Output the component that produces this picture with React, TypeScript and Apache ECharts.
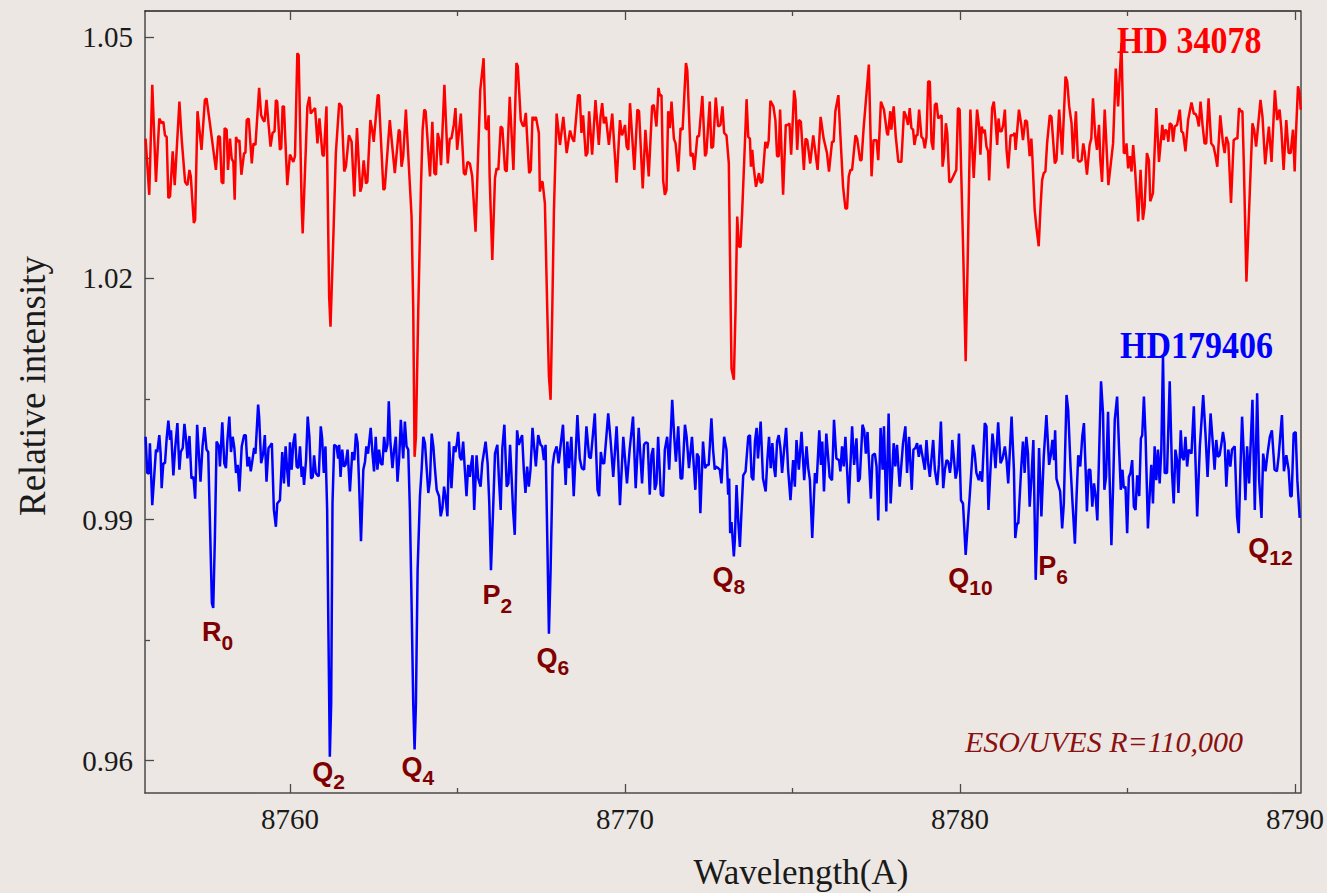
import React, { useEffect, useRef } from "react";
import * as echarts from "echarts";

// ---- axis ranges / ticks ----
const X_MIN = 8755.673;
const X_MAX = 8790.16;
const Y_MIN = 0.95598;
const Y_MAX = 1.05327;
const xMajor = [8760, 8770, 8780, 8790];
const xMinor = [8765, 8775, 8785];
const yMajor = [0.96, 0.99, 1.02, 1.05];
const yMinor = [0.975, 1.005, 1.035];

// ---- HD 34078 spectrum (wavelength, relative intensity) ----
const hd34078: [number, number][] = [
  [8755.69,1.0374],[8755.80,1.0304],[8755.89,1.0441],[8756.00,1.0320],[8756.10,1.0399],[8756.17,1.0393],[8756.22,1.0395],[8756.27,1.0378],[8756.32,1.0376],[8756.37,1.0300],[8756.42,1.0302],[8756.50,1.0358],[8756.56,1.0316],[8756.70,1.0420],[8756.77,1.0372],[8756.87,1.0320],[8756.94,1.0316],[8757.00,1.0335],[8757.04,1.0327],[8757.13,1.0269],[8757.17,1.0273],[8757.24,1.0408],[8757.36,1.0360],[8757.46,1.0422],[8757.51,1.0424],[8757.61,1.0393],[8757.79,1.0335],[8757.86,1.0377],[8757.91,1.0376],[8757.96,1.0320],[8758.01,1.0318],[8758.05,1.0387],[8758.11,1.0385],[8758.15,1.0335],[8758.21,1.0374],[8758.26,1.0349],[8758.31,1.0345],[8758.35,1.0298],[8758.39,1.0376],[8758.44,1.0370],[8758.49,1.0372],[8758.55,1.0329],[8758.63,1.0356],[8758.67,1.0356],[8758.71,1.0397],[8758.77,1.0399],[8758.86,1.0343],[8758.91,1.0368],[8758.97,1.0366],[8759.08,1.0437],[8759.14,1.0403],[8759.20,1.0397],[8759.24,1.0395],[8759.30,1.0422],[8759.35,1.0397],[8759.42,1.0364],[8759.48,1.0381],[8759.54,1.0383],[8759.58,1.0422],[8759.62,1.0420],[8759.70,1.0360],[8759.74,1.0362],[8759.78,1.0414],[8759.82,1.0414],[8759.92,1.0316],[8760.00,1.0354],[8760.10,1.0345],[8760.15,1.0352],[8760.22,1.0480],[8760.26,1.0478],[8760.35,1.0289],[8760.38,1.0256],[8760.52,1.0414],[8760.58,1.0426],[8760.62,1.0405],[8760.67,1.0408],[8760.75,1.0412],[8760.82,1.0368],[8760.88,1.0399],[8760.97,1.0354],[8761.01,1.0352],[8761.09,1.0414],[8761.17,1.0177],[8761.21,1.0140],[8761.29,1.0244],[8761.37,1.0356],[8761.47,1.0418],
  [8761.54,1.0414],[8761.62,1.0333],[8761.67,1.0339],[8761.76,1.0378],[8761.84,1.0370],[8761.92,1.0302],[8762.00,1.0387],[8762.10,1.0308],[8762.14,1.0314],[8762.20,1.0347],[8762.27,1.0318],[8762.31,1.0320],[8762.40,1.0397],[8762.46,1.0383],[8762.50,1.0370],[8762.62,1.0428],[8762.65,1.0428],[8762.79,1.0310],[8762.83,1.0312],[8762.98,1.0397],[8763.13,1.0331],[8763.25,1.0385],[8763.28,1.0383],[8763.33,1.0339],[8763.38,1.0352],[8763.46,1.0410],[8763.51,1.0370],[8763.55,1.0339],[8763.63,1.0277],[8763.68,1.0161],[8763.72,0.9978],[8763.76,1.0003],[8763.83,1.0161],[8763.91,1.0314],[8763.96,1.0385],[8764.01,1.0410],[8764.05,1.0408],[8764.18,1.0327],[8764.25,1.0395],[8764.31,1.0331],[8764.36,1.0329],[8764.41,1.0381],[8764.46,1.0372],[8764.51,1.0341],[8764.61,1.0441],[8764.71,1.0343],[8764.77,1.0374],[8764.82,1.0374],[8764.89,1.0391],[8764.94,1.0412],[8764.99,1.0360],[8765.10,1.0405],[8765.19,1.0331],[8765.24,1.0329],[8765.30,1.0345],[8765.37,1.0343],[8765.44,1.0327],[8765.54,1.0258],[8765.68,1.0434],[8765.78,1.0474],[8765.84,1.0387],[8765.89,1.0385],[8765.93,1.0403],[8765.96,1.0327],[8766.04,1.0223],[8766.12,1.0325],[8766.17,1.0337],[8766.22,1.0335],[8766.29,1.0389],[8766.34,1.0387],[8766.42,1.0335],[8766.47,1.0333],[8766.56,1.0426],[8766.67,1.0335],[8766.76,1.0468],[8766.80,1.0464],[8766.89,1.0397],[8766.94,1.0391],[8766.98,1.0389],[8767.04,1.0406],[8767.09,1.0368],[8767.14,1.0331],[8767.19,1.0335],[8767.24,1.0401],
  [8767.29,1.0397],[8767.34,1.0401],[8767.43,1.0381],[8767.46,1.0308],[8767.51,1.0320],[8767.54,1.0320],[8767.61,1.0293],[8767.68,1.0161],[8767.73,1.0078],[8767.78,1.0049],[8767.83,1.0161],[8767.88,1.0285],[8767.96,1.0405],[8768.06,1.0366],[8768.16,1.0401],[8768.26,1.0356],[8768.36,1.0384],[8768.43,1.0374],[8768.48,1.0370],[8768.60,1.0428],[8768.65,1.0428],[8768.70,1.0381],[8768.75,1.0403],[8768.83,1.0352],[8768.88,1.0356],[8768.93,1.0408],[8769.02,1.0354],[8769.12,1.0422],[8769.22,1.0366],[8769.27,1.0401],[8769.32,1.0418],[8769.37,1.0393],[8769.43,1.0401],[8769.52,1.0366],[8769.62,1.0405],[8769.75,1.0319],[8769.85,1.0397],[8769.91,1.0378],[8769.97,1.0385],[8770.00,1.0391],[8770.05,1.0364],[8770.10,1.0360],[8770.15,1.0418],[8770.28,1.0335],[8770.37,1.0410],[8770.42,1.0408],[8770.53,1.0312],[8770.61,1.0385],[8770.71,1.0327],[8770.81,1.0414],[8770.86,1.0416],[8770.94,1.0389],[8771.00,1.0437],[8771.04,1.0428],[8771.09,1.0428],[8771.14,1.0322],[8771.19,1.0304],[8771.24,1.0310],[8771.29,1.0408],[8771.34,1.0387],[8771.39,1.0420],[8771.46,1.0374],[8771.51,1.0368],[8771.59,1.0333],[8771.66,1.0387],[8771.72,1.0385],[8771.82,1.0468],[8771.86,1.0459],[8771.96,1.0352],[8772.02,1.0356],[8772.07,1.0335],[8772.16,1.0377],[8772.21,1.0377],[8772.31,1.0427],[8772.39,1.0352],[8772.43,1.0356],[8772.53,1.0420],[8772.58,1.0362],[8772.63,1.0364],[8772.71,1.0425],[8772.78,1.0389],[8772.85,1.0391],[8772.91,1.0414],[8772.96,1.0381],
  [8773.03,1.0378],[8773.10,1.0343],[8773.13,1.0244],[8773.18,1.0088],[8773.25,1.0074],[8773.30,1.0161],[8773.35,1.0277],[8773.40,1.0240],[8773.45,1.0239],[8773.50,1.0285],[8773.56,1.0347],[8773.63,1.0423],[8773.68,1.0376],[8773.73,1.0374],[8773.76,1.0339],[8773.80,1.0360],[8773.84,1.0339],[8773.91,1.0314],[8774.00,1.0331],[8774.05,1.0319],[8774.10,1.0320],[8774.19,1.0370],[8774.24,1.0362],[8774.29,1.0372],[8774.34,1.0421],[8774.43,1.0414],[8774.49,1.0397],[8774.54,1.0352],[8774.59,1.0352],[8774.63,1.0410],[8774.72,1.0304],[8774.80,1.0391],[8774.87,1.0391],[8774.91,1.0393],[8774.96,1.0354],[8775.05,1.0434],[8775.09,1.0422],[8775.14,1.0360],[8775.19,1.0397],[8775.25,1.0395],[8775.34,1.0335],[8775.39,1.0374],[8775.44,1.0372],[8775.53,1.0343],[8775.62,1.0378],[8775.75,1.0335],[8775.84,1.0401],[8775.93,1.0374],[8776.03,1.0356],[8776.09,1.0333],[8776.18,1.0370],[8776.23,1.0370],[8776.28,1.0408],[8776.37,1.0428],[8776.43,1.0378],[8776.51,1.0314],[8776.58,1.0287],[8776.63,1.0287],[8776.68,1.0327],[8776.73,1.0335],[8776.78,1.0335],[8776.88,1.0378],[8776.93,1.0374],[8777.02,1.0347],[8777.06,1.0347],[8777.12,1.0385],[8777.28,1.0466],[8777.36,1.0327],[8777.42,1.0372],[8777.51,1.0372],[8777.56,1.0347],[8777.64,1.0420],[8777.73,1.0410],[8777.82,1.0381],[8777.85,1.0378],[8777.92,1.0408],[8777.95,1.0385],[8778.02,1.0414],[8778.08,1.0378],[8778.16,1.0345],[8778.25,1.0345],[8778.33,1.0408],[8778.38,1.0403],[8778.45,1.0391],[8778.50,1.0412],[8778.55,1.0387],[8778.60,1.0385],[8778.64,1.0366],[8778.69,1.0378],[8778.73,1.0378],[8778.78,1.0410],[8778.85,1.0376],
  [8778.90,1.0374],[8778.95,1.0362],[8779.00,1.0376],[8779.05,1.0445],[8779.10,1.0445],[8779.15,1.0370],[8779.20,1.0360],[8779.25,1.0416],[8779.30,1.0418],[8779.35,1.0399],[8779.40,1.0401],[8779.45,1.0403],[8779.48,1.0339],[8779.52,1.0352],[8779.58,1.0393],[8779.62,1.0381],[8779.68,1.0320],[8779.72,1.0320],[8779.89,1.0335],[8779.94,1.0412],[8779.99,1.0410],[8780.09,1.0244],[8780.17,1.0097],[8780.24,1.0244],[8780.31,1.0410],[8780.41,1.0325],[8780.51,1.0410],[8780.57,1.0389],[8780.61,1.0354],[8780.65,1.0389],[8780.69,1.0381],[8780.74,1.0385],[8780.79,1.0364],[8780.84,1.0358],[8780.87,1.0322],[8780.96,1.0412],[8781.01,1.0420],[8781.06,1.0397],[8781.11,1.0366],[8781.15,1.0399],[8781.19,1.0383],[8781.24,1.0383],[8781.29,1.0391],[8781.34,1.0410],[8781.39,1.0360],[8781.44,1.0337],[8781.51,1.0378],[8781.59,1.0378],[8781.63,1.0381],[8781.66,1.0360],[8781.76,1.0410],[8781.83,1.0391],[8781.88,1.0372],[8781.95,1.0397],[8782.00,1.0395],[8782.08,1.0352],[8782.13,1.0374],[8782.16,1.0352],[8782.23,1.0285],[8782.28,1.0264],[8782.35,1.0240],[8782.40,1.0285],[8782.45,1.0322],[8782.50,1.0331],[8782.55,1.0333],[8782.60,1.0368],[8782.68,1.0403],[8782.73,1.0401],[8782.83,1.0343],[8782.88,1.0347],[8782.96,1.0410],[8783.05,1.0354],[8783.15,1.0451],[8783.20,1.0445],[8783.26,1.0414],[8783.33,1.0393],[8783.38,1.0349],[8783.46,1.0408],[8783.52,1.0347],[8783.57,1.0345],[8783.63,1.0347],[8783.68,1.0368],[8783.72,1.0358],[8783.79,1.0329],[8783.87,1.0366],[8783.92,1.0374],[8783.97,1.0424],[8784.04,1.0376],[8784.09,1.0360],[8784.15,1.0391],[8784.19,1.0347],[8784.24,1.0320],[8784.32,1.0410],[8784.43,1.0316],[8784.57,1.0368],[8784.65,1.0461],
  [8784.72,1.0414],[8784.82,1.0493],[8784.89,1.0356],[8784.94,1.0356],[8784.97,1.0368],[8785.02,1.0337],[8785.07,1.0352],[8785.12,1.0333],[8785.17,1.0366],[8785.22,1.0339],[8785.32,1.0271],[8785.39,1.0335],[8785.46,1.0273],[8785.51,1.0289],[8785.58,1.0356],[8785.64,1.0347],[8785.68,1.0296],[8785.76,1.0306],[8785.86,1.0412],[8785.94,1.0345],[8786.04,1.0391],[8786.08,1.0372],[8786.13,1.0385],[8786.18,1.0383],[8786.22,1.0370],[8786.26,1.0393],[8786.32,1.0391],[8786.36,1.0370],[8786.41,1.0389],[8786.48,1.0391],[8786.56,1.0410],[8786.61,1.0383],[8786.66,1.0381],[8786.73,1.0358],[8786.81,1.0397],[8786.91,1.0419],[8786.98,1.0405],[8787.03,1.0405],[8787.08,1.0400],[8787.13,1.0389],[8787.18,1.0420],[8787.24,1.0391],[8787.30,1.0368],[8787.35,1.0368],[8787.42,1.0424],[8787.50,1.0368],[8787.57,1.0364],[8787.63,1.0352],[8787.68,1.0339],[8787.77,1.0403],[8787.85,1.0368],[8787.90,1.0356],[8787.95,1.0376],[8788.01,1.0368],[8788.09,1.0294],[8788.17,1.0372],[8788.23,1.0374],[8788.28,1.0374],[8788.33,1.0412],[8788.38,1.0408],[8788.43,1.0408],[8788.47,1.0347],[8788.55,1.0196],[8788.63,1.0285],[8788.73,1.0393],[8788.78,1.0385],[8788.84,1.0364],[8788.97,1.0422],[8789.03,1.0401],[8789.11,1.0342],[8789.22,1.0389],[8789.30,1.0345],[8789.40,1.0434],[8789.47,1.0397],[8789.54,1.0410],[8789.59,1.0387],[8789.66,1.0335],[8789.74,1.0397],[8789.81,1.0356],[8789.87,1.0356],[8789.94,1.0385],[8789.99,1.0333],[8790.02,1.0372],[8790.09,1.0439],[8790.14,1.0430],[8790.17,1.0410]
];

// ---- HD179406 spectrum (wavelength, relative intensity) ----
const hd179406: [number, number][] = [
  [8755.69,1.0003],[8755.74,0.9958],[8755.79,0.9957],[8755.82,0.9995],[8755.89,0.9918],[8756.00,0.9987],[8756.04,0.9984],[8756.10,1.0005],[8756.14,0.9982],[8756.17,0.9939],[8756.22,0.9970],[8756.27,0.9970],[8756.32,1.0001],[8756.37,1.0023],[8756.42,0.9999],[8756.45,1.0011],[8756.52,0.9955],[8756.57,0.9987],[8756.64,1.0020],[8756.70,0.9962],[8756.74,0.9984],[8756.80,0.9989],[8756.85,1.0019],[8756.90,0.9999],[8756.94,0.9976],[8757.00,1.0004],[8757.06,0.9951],[8757.12,0.9953],[8757.17,0.9926],[8757.23,1.0018],[8757.33,0.9947],[8757.39,0.9991],[8757.45,1.0015],[8757.51,0.9987],[8757.56,0.9984],[8757.67,0.9796],[8757.71,0.9790],[8757.76,0.9879],[8757.81,0.9997],[8757.88,0.9991],[8757.91,0.9966],[8757.98,1.0021],[8758.04,0.9970],[8758.09,0.9964],[8758.13,0.9997],[8758.19,1.0028],[8758.24,0.9984],[8758.29,1.0003],[8758.34,0.9989],[8758.39,0.9958],[8758.44,0.9968],[8758.49,0.9935],[8758.56,0.9991],[8758.63,1.0005],[8758.68,1.0005],[8758.73,0.9966],[8758.78,0.9978],[8758.83,0.9960],[8758.88,0.9974],[8758.93,0.9989],[8758.97,0.9982],[8759.05,1.0043],[8759.08,1.0028],[8759.14,0.9970],[8759.20,0.9982],[8759.25,1.0005],[8759.30,0.9947],[8759.36,0.9989],[8759.40,0.9991],[8759.46,0.9995],[8759.52,0.9912],[8759.58,0.9891],[8759.62,0.9920],[8759.70,0.9924],[8759.77,0.9984],[8759.82,0.9945],[8759.87,0.9991],[8759.92,0.9960],[8759.96,0.9941],[8760.00,0.9996],[8760.05,0.9962],[8760.10,0.9995],[8760.15,1.0007],[8760.20,0.9966],[8760.25,0.9964],[8760.30,0.9991],[8760.35,0.9953],[8760.38,0.9966],[8760.42,0.9943],[8760.48,0.9974],[8760.53,1.0028],[8760.58,1.0003],[8760.63,0.9951],[8760.68,0.9953],[8760.72,0.9980],[8760.77,0.9958],[8760.82,0.9955],[8760.86,0.9954],[8760.92,1.0016],[8760.96,1.0001],[8761.01,0.9958],[8761.06,0.9991],[8761.11,0.9912],[8761.15,0.9754],[8761.19,0.9605],[8761.23,0.9671],[8761.27,0.9920],[8761.32,0.9993],[8761.39,0.9991],
  [8761.44,0.9976],[8761.47,0.9993],[8761.51,0.9953],[8761.56,0.9987],[8761.61,0.9966],[8761.66,0.9968],[8761.72,0.9987],[8761.79,0.9935],[8761.86,0.9984],[8761.92,0.9974],[8761.97,1.0007],[8762.02,0.9995],[8762.06,0.9949],[8762.12,0.9873],[8762.19,0.9962],[8762.24,0.9972],[8762.28,0.9991],[8762.33,0.9982],[8762.41,1.0014],[8762.46,0.9984],[8762.51,0.9960],[8762.56,1.0003],[8762.61,0.9962],[8762.66,0.9987],[8762.71,0.9970],[8762.76,0.9968],[8762.81,1.0003],[8762.86,0.9984],[8762.91,0.9993],[8762.95,1.0047],[8763.00,0.9995],[8763.06,0.9964],[8763.11,0.9987],[8763.16,1.0003],[8763.21,0.9947],[8763.26,0.9976],[8763.31,1.0024],[8763.38,0.9976],[8763.43,1.0022],[8763.48,0.9991],[8763.53,0.9987],[8763.58,0.9912],[8763.63,0.9796],[8763.68,0.9671],[8763.72,0.9614],[8763.76,0.9671],[8763.81,0.9837],[8763.88,0.9929],[8763.93,0.9962],[8763.98,1.0003],[8764.03,0.9995],[8764.13,0.9933],[8764.18,0.9949],[8764.23,1.0007],[8764.28,0.9991],[8764.33,0.9962],[8764.38,0.9937],[8764.45,0.9929],[8764.50,0.9904],[8764.55,0.9914],[8764.60,0.9941],[8764.65,0.9926],[8764.70,0.9904],[8764.75,0.9997],[8764.82,0.9939],[8764.89,0.9991],[8764.94,0.9984],[8764.99,0.9997],[8765.02,1.0009],[8765.07,0.9978],[8765.12,0.9974],[8765.17,0.9997],[8765.22,0.9962],[8765.27,0.9929],[8765.32,0.9968],[8765.37,0.9953],[8765.40,0.9966],[8765.45,0.9980],[8765.50,0.9912],[8765.57,0.9980],[8765.62,0.9951],[8765.69,0.9941],[8765.74,0.9970],[8765.84,0.9997],[8765.90,0.9970],[8765.95,0.9920],[8766.00,0.9837],[8766.07,0.9920],[8766.12,0.9982],[8766.19,0.9993],[8766.24,0.9949],[8766.29,0.9912],[8766.34,0.9989],[8766.40,1.0018],[8766.47,0.9941],[8766.52,0.9945],[8766.57,0.9993],[8766.62,0.9949],[8766.66,0.9912],[8766.71,0.9881],[8766.78,1.0011],[8766.83,0.9993],[8766.88,0.9999],[8766.93,1.0005],[8766.98,0.9962],[8767.03,0.9933],[8767.08,0.9966],[8767.13,0.9941],[8767.18,0.9962],[8767.24,1.0014],
  [8767.34,0.9966],[8767.41,1.0005],[8767.48,0.9993],[8767.53,0.9991],[8767.58,0.9974],[8767.63,0.9993],[8767.68,0.9879],[8767.73,0.9758],[8767.78,0.9837],[8767.84,0.9966],[8767.89,0.9982],[8767.96,0.9991],[8768.02,0.9970],[8768.08,0.9993],[8768.15,1.0018],[8768.23,0.9943],[8768.28,0.9997],[8768.33,0.9964],[8768.40,1.0003],[8768.47,0.9929],[8768.58,1.0030],[8768.65,0.9976],[8768.71,0.9964],[8768.78,0.9962],[8768.85,1.0016],[8768.93,0.9978],[8768.98,0.9976],[8769.10,1.0032],[8769.18,0.9937],[8769.23,0.9929],[8769.28,0.9984],[8769.33,0.9970],[8769.38,0.9970],[8769.50,1.0032],[8769.57,0.9999],[8769.65,0.9953],[8769.75,1.0016],[8769.80,0.9972],[8769.85,0.9918],[8769.95,1.0003],[8770.06,0.9945],[8770.14,0.9987],[8770.24,1.0028],[8770.32,0.9939],[8770.41,1.0014],[8770.51,0.9945],[8770.57,0.9993],[8770.62,0.9996],[8770.68,0.9995],[8770.74,0.9931],[8770.79,0.9980],[8770.84,0.9989],[8770.89,0.9937],[8770.94,0.9945],[8770.99,1.0003],[8771.07,0.9931],[8771.14,0.9929],[8771.19,0.9987],[8771.26,1.0003],[8771.32,0.9962],[8771.41,1.0049],[8771.47,1.0003],[8771.52,0.9972],[8771.59,1.0016],[8771.66,0.9951],[8771.71,0.9951],[8771.79,1.0018],[8771.84,1.0003],[8771.91,0.9964],[8772.00,1.0003],[8772.10,0.9937],[8772.15,0.9982],[8772.20,0.9978],[8772.25,0.9908],[8772.33,0.9997],[8772.39,0.9964],[8772.45,0.9968],[8772.50,0.9968],[8772.58,1.0026],[8772.63,0.9987],[8772.68,0.9962],[8772.71,0.9966],[8772.78,0.9964],[8772.83,0.9962],[8772.88,0.9945],[8772.96,1.0003],
  [8773.03,0.9987],[8773.08,0.9931],[8773.11,0.9951],[8773.14,0.9883],[8773.18,0.9897],[8773.25,0.9854],[8773.28,0.9875],[8773.33,0.9943],[8773.38,0.9899],[8773.43,0.9866],[8773.48,0.9912],[8773.53,0.9955],[8773.60,0.9960],[8773.68,1.0003],[8773.73,1.0005],[8773.78,0.9953],[8773.83,0.9949],[8773.88,0.9997],[8773.93,1.0014],[8773.97,0.9976],[8774.05,1.0022],[8774.12,0.9951],[8774.20,0.9935],[8774.25,0.9974],[8774.30,1.0003],[8774.35,0.9964],[8774.40,0.9995],[8774.45,0.9964],[8774.49,0.9953],[8774.54,0.9997],[8774.59,1.0005],[8774.64,0.9989],[8774.69,0.9958],[8774.75,0.9987],[8774.81,1.0014],[8774.87,0.9962],[8774.94,0.9924],[8775.02,0.9974],[8775.07,0.9941],[8775.12,0.9999],[8775.19,0.9962],[8775.27,1.0009],[8775.35,0.9949],[8775.42,0.9991],[8775.47,0.9964],[8775.52,0.9949],[8775.59,0.9877],[8775.67,0.9958],[8775.72,0.9945],[8775.80,1.0011],[8775.85,0.9968],[8775.89,0.9997],[8775.94,0.9935],[8776.01,1.0007],[8776.11,0.9953],[8776.18,0.9949],[8776.24,1.0024],[8776.31,0.9976],[8776.39,0.9974],[8776.43,0.9960],[8776.48,0.9991],[8776.53,0.9966],[8776.58,1.0003],[8776.68,0.9920],[8776.78,1.0016],[8776.84,0.9968],[8776.91,1.0001],[8776.96,0.9947],[8777.01,0.9951],[8777.09,1.0018],[8777.14,1.0011],[8777.19,0.9982],[8777.24,1.0009],[8777.34,0.9926],[8777.39,0.9980],[8777.46,0.9982],[8777.51,0.9966],[8777.56,0.9899],[8777.63,1.0014],[8777.69,0.9962],[8777.73,1.0016],[8777.80,0.9910],[8777.87,1.0032],[8777.93,0.9920],[8778.02,0.9995],[8778.07,0.9966],[8778.12,0.9993],[8778.20,0.9941],[8778.30,0.9995],[8778.37,1.0016],[8778.42,0.9958],[8778.48,1.0003],[8778.56,0.9937],[8778.61,0.9987],[8778.67,0.9989],[8778.72,0.9995],[8778.77,0.9978],[8778.82,0.9993],
  [8778.90,0.9974],[8778.95,0.9962],[8779.00,0.9999],[8779.05,0.9970],[8779.10,0.9953],[8779.15,0.9976],[8779.20,0.9999],[8779.25,0.9962],[8779.32,0.9943],[8779.37,0.9968],[8779.43,1.0022],[8779.50,0.9939],[8779.55,0.9962],[8779.60,0.9974],[8779.65,0.9972],[8779.70,0.9958],[8779.74,0.9972],[8779.77,0.9999],[8779.82,0.9976],[8779.87,0.9951],[8779.92,0.9962],[8779.97,1.0007],[8780.03,0.9924],[8780.09,0.9920],[8780.17,0.9856],[8780.24,0.9899],[8780.29,0.9929],[8780.39,0.9993],[8780.44,0.9982],[8780.49,0.9958],[8780.56,0.9949],[8780.61,0.9960],[8780.66,0.9947],[8780.74,1.0020],[8780.79,1.0016],[8780.85,0.9912],[8780.91,0.9962],[8780.97,1.0007],[8781.01,0.9991],[8781.06,0.9964],[8781.14,1.0021],[8781.21,0.9970],[8781.27,0.9976],[8781.34,0.9991],[8781.39,0.9974],[8781.44,0.9945],[8781.54,1.0028],[8781.61,0.9962],[8781.65,0.9877],[8781.70,0.9895],[8781.74,0.9895],[8781.83,0.9966],[8781.88,0.9997],[8781.93,0.9958],[8781.98,1.0003],[8782.03,0.9982],[8782.08,0.9916],[8782.13,0.9949],[8782.19,0.9999],[8782.26,0.9825],[8782.30,0.9879],[8782.36,0.9989],[8782.43,0.9904],[8782.50,0.9978],[8782.58,1.0030],[8782.66,0.9968],[8782.71,0.9980],[8782.76,0.9999],[8782.81,0.9974],[8782.84,1.0011],[8782.88,0.9951],[8782.93,0.9943],[8782.99,0.9935],[8783.05,0.9889],[8783.10,0.9920],[8783.18,1.0055],[8783.23,1.0036],[8783.30,0.9966],[8783.36,0.9920],[8783.43,0.9870],[8783.48,0.9929],[8783.53,0.9980],[8783.59,0.9966],[8783.65,1.0003],[8783.70,1.0020],[8783.75,0.9962],[8783.79,0.9910],[8783.84,0.9962],[8783.89,0.9962],[8783.95,0.9916],[8784.00,0.9945],[8784.05,0.9929],[8784.10,0.9899],[8784.15,0.9978],[8784.21,1.0072],[8784.27,1.0032],[8784.31,0.9937],[8784.36,0.9953],[8784.42,1.0034],[8784.47,0.9945],
  [8784.52,0.9868],[8784.57,0.9941],[8784.62,1.0024],[8784.69,1.0053],[8784.75,0.9987],[8784.80,0.9937],[8784.85,0.9962],[8784.89,0.9939],[8784.94,0.9941],[8784.99,0.9883],[8785.04,0.9953],[8785.09,0.9958],[8785.14,0.9974],[8785.19,0.9916],[8785.24,0.9912],[8785.29,0.9955],[8785.35,0.9929],[8785.40,1.0001],[8785.44,1.0005],[8785.49,1.0053],[8785.54,1.0003],[8785.61,0.9889],[8785.66,0.9929],[8785.71,0.9968],[8785.76,0.9920],[8785.81,0.9991],[8785.86,0.9949],[8785.91,0.9987],[8785.96,0.9945],[8786.01,0.9987],[8786.06,1.0105],[8786.11,0.9958],[8786.18,0.9958],[8786.26,1.0072],[8786.33,0.9958],[8786.38,0.9920],[8786.43,0.9987],[8786.48,0.9974],[8786.52,0.9933],[8786.59,1.0011],[8786.63,0.9978],[8786.68,0.9974],[8786.73,1.0003],[8786.78,0.9966],[8786.83,0.9987],[8786.91,0.9982],[8786.98,1.0041],[8787.08,0.9904],[8787.16,0.9991],[8787.26,1.0055],[8787.33,1.0005],[8787.39,0.9953],[8787.48,1.0032],[8787.55,0.9993],[8787.60,0.9962],[8787.65,0.9999],[8787.70,0.9978],[8787.75,0.9980],[8787.80,0.9993],[8787.85,1.0009],[8787.90,0.9995],[8787.95,0.9941],[8788.01,0.9987],[8788.07,0.9966],[8788.12,0.9987],[8788.20,0.9991],[8788.27,0.9904],[8788.32,0.9883],[8788.37,0.9962],[8788.42,1.0028],[8788.47,0.9982],[8788.52,0.9924],[8788.57,0.9991],[8788.63,0.9945],[8788.73,1.0049],[8788.80,0.9912],[8788.87,1.0057],[8788.93,0.9949],[8789.00,0.9902],[8789.05,0.9982],[8789.12,0.9960],[8789.18,0.9982],[8789.25,1.0003],[8789.31,1.0011],[8789.39,0.9962],[8789.46,0.9960],[8789.51,0.9978],[8789.61,1.0030],[8789.67,0.9960],[8789.74,0.9980],[8789.81,0.9962],[8789.86,0.9929],[8789.90,0.9929],[8789.96,1.0007],[8790.02,1.0009],[8790.07,0.9949],[8790.14,0.9902]
];

// ---- line identifications (branch, J, label anchor wavelength, label anchor intensity) ----
const lineBranch = ["R", "Q", "Q", "P", "Q", "Q", "Q", "P", "Q"];
const lineJ = ["0", "2", "4", "2", "6", "8", "10", "6", "12"];
const lineLabelWl = [8757.84, 8761.15, 8763.82, 8766.19, 8767.85, 8773.10, 8780.31, 8782.78, 8789.27];
const lineLabelI = [0.9760, 0.9586, 0.9592, 0.9806, 0.9728, 0.98286, 0.98273, 0.98416, 0.98647];

const BG = "#ece7e3";
const RED = "#ff0000";
const BLUE = "#0000ff";
const MAROON = "#800000";
const AXIS = "#4a4a4a";
const SERIF = "'Liberation Serif', 'DejaVu Serif', serif";
const SANS = "'Liberation Sans', Arial, sans-serif";

export default function App() {
  const ref = useRef<HTMLDivElement>(null);

  useEffect(() => {
    if (!ref.current) return;
    const chart = echarts.init(ref.current, undefined, { renderer: "svg" });

    const axisLineStyle = { color: AXIS, width: 1.5 };
    const tickLabel = { color: "#1a1a1a", fontFamily: SERIF, fontSize: 29 };

    const xBase = (extra: any) => ({
      type: "value",
      min: X_MIN,
      max: X_MAX,
      splitLine: { show: false },
      ...extra,
    });
    const yBase = (extra: any) => ({
      type: "value",
      min: Y_MIN,
      max: Y_MAX,
      splitLine: { show: false },
      ...extra,
    });

    const labelData = lineBranch.map((b, i) => [lineLabelWl[i], lineLabelI[i]]);

    chart.setOption({
      animation: false,
      backgroundColor: BG,
      grid: { left: 145, right: 26, top: 11, bottom: 100 },
      xAxis: [
        xBase({
          position: "bottom",
          axisLine: { show: true, lineStyle: axisLineStyle },
          axisTick: { show: true, inside: true, length: 9, customValues: xMajor, lineStyle: { color: AXIS, width: 1.3 } },
          axisLabel: { show: true, customValues: xMajor, margin: 11, ...tickLabel, formatter: (v: number) => String(Math.round(v)) },
        }),
        xBase({
          position: "bottom",
          axisLine: { show: false },
          axisTick: { show: true, inside: true, length: 5, customValues: xMinor, lineStyle: { color: AXIS, width: 1.3 } },
          axisLabel: { show: false },
        }),
        xBase({
          position: "top",
          axisLine: { show: true, lineStyle: { color: "#222", width: 1.5 } },
          axisTick: { show: true, inside: true, length: 9, customValues: xMajor, lineStyle: { color: AXIS, width: 1.3 } },
          axisLabel: { show: false },
        }),
        xBase({
          position: "top",
          axisLine: { show: false },
          axisTick: { show: true, inside: true, length: 5, customValues: xMinor, lineStyle: { color: AXIS, width: 1.3 } },
          axisLabel: { show: false },
        }),
      ],
      yAxis: [
        yBase({
          position: "left",
          axisLine: { show: true, lineStyle: axisLineStyle },
          axisTick: { show: true, inside: true, length: 9, customValues: yMajor, lineStyle: { color: AXIS, width: 1.3 } },
          axisLabel: { show: true, customValues: yMajor, margin: 12, ...tickLabel, formatter: (v: number) => v.toFixed(2) },
        }),
        yBase({
          position: "left",
          axisLine: { show: false },
          axisTick: { show: true, inside: true, length: 5, customValues: yMinor, lineStyle: { color: AXIS, width: 1.3 } },
          axisLabel: { show: false },
        }),
        yBase({
          position: "right",
          axisLine: { show: true, lineStyle: axisLineStyle },
          axisTick: { show: false },
          axisLabel: { show: false },
        }),
      ],
      series: [
        {
          type: "line",
          name: "HD 34078",
          data: hd34078,
          xAxisIndex: 0,
          yAxisIndex: 0,
          showSymbol: false,
          symbol: "none",
          lineStyle: { color: RED, width: 2.5 },
          z: 3,
        },
        {
          type: "line",
          name: "HD179406",
          data: hd179406,
          xAxisIndex: 0,
          yAxisIndex: 0,
          showSymbol: false,
          symbol: "none",
          lineStyle: { color: BLUE, width: 2.5 },
          z: 2,
        },
        {
          type: "scatter",
          name: "lines",
          data: labelData,
          xAxisIndex: 0,
          yAxisIndex: 0,
          symbolSize: 1,
          itemStyle: { color: "rgba(0,0,0,0)" },
          silent: true,
          z: 5,
          label: {
            show: true,
            position: "inside",
            opacity: 1,
            formatter: (p: any) => `{m|${lineBranch[p.dataIndex]}}{s|${lineJ[p.dataIndex]}}`,
            rich: {
              m: { fontFamily: SANS, fontWeight: "bold", fontSize: 27, color: MAROON, lineHeight: 28 },
              s: { fontFamily: SANS, fontWeight: "bold", fontSize: 21, color: MAROON, lineHeight: 21, padding: [20, 0, 0, 0] },
            },
          },
        },
      ],
      graphic: [
        {
          type: "text",
          x: 1117,
          y: 40,
          scaleY: 1.1,
          style: { text: "HD 34078", fill: RED, fontFamily: SERIF, fontWeight: "bold", fontSize: 34, align: "left", verticalAlign: "middle" },
          z: 10,
        },
        {
          type: "text",
          x: 1120,
          y: 345,
          scaleY: 1.1,
          style: { text: "HD179406", fill: BLUE, fontFamily: SERIF, fontWeight: "bold", fontSize: 34, align: "left", verticalAlign: "middle" },
          z: 10,
        },
        {
          type: "text",
          x: 965,
          y: 741,
          style: { text: "ESO/UVES R=110,000", fill: "#8b1010", fontFamily: SERIF, fontStyle: "italic", fontSize: 30, align: "left", verticalAlign: "middle" },
          z: 10,
        },
        {
          type: "text",
          x: 32,
          y: 386,
          rotation: Math.PI / 2,
          style: { text: "Relative intensity", fill: "#1a1a1a", fontFamily: SERIF, fontSize: 37, align: "center", verticalAlign: "middle" },
          z: 10,
        },
        {
          type: "text",
          x: 801,
          y: 872,
          style: { text: "Wavelength(A)", fill: "#1a1a1a", fontFamily: SERIF, fontSize: 35, align: "center", verticalAlign: "middle" },
          z: 10,
        },
      ],
    });

    return () => chart.dispose();
  }, []);

  return (
    <div
      ref={ref}
      style={{ position: "fixed", left: 0, top: 0, width: 1327, height: 893, background: BG }}
    />
  );
}
